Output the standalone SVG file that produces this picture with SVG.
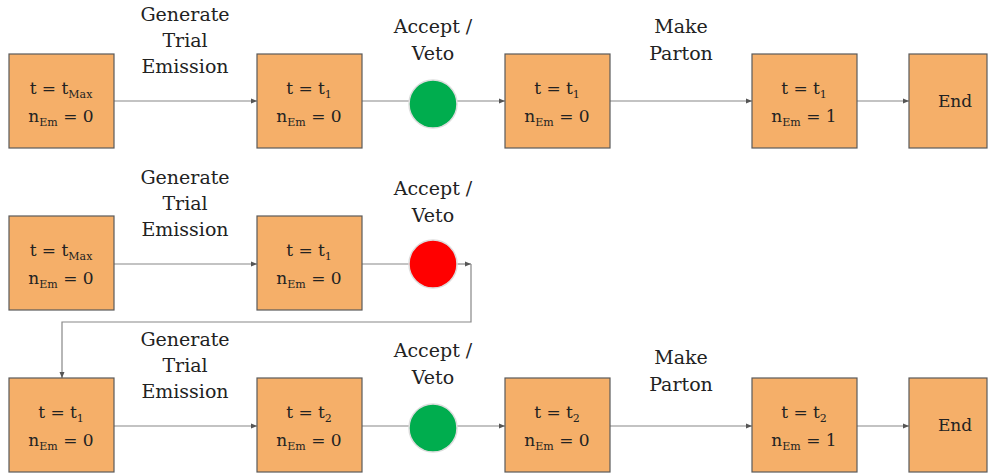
<svg xmlns="http://www.w3.org/2000/svg" width="988" height="476" viewBox="0 0 988 476">
<defs>
<style>
.box{fill:#F5AF69;stroke:#5a5a5a;stroke-width:1.2}
.bt{font-family:"DejaVu Serif","Liberation Serif",serif;font-size:17px;fill:#222;text-anchor:middle}
.lb{font-family:"DejaVu Serif","Liberation Serif",serif;font-size:19px;fill:#222;text-anchor:middle}
.sub{font-size:11px}
.c{fill:none;stroke:#888;stroke-width:1.2}
.ok{fill:#00AD4E;stroke:#ddd;stroke-width:1.5}
.no{fill:#FF0000;stroke:#ddd;stroke-width:1.5}
</style>
<marker id="ah" viewBox="0 0 6 6" refX="6" refY="3" markerWidth="6" markerHeight="6" orient="auto" markerUnits="userSpaceOnUse">
<path d="M0,0.5 L6,3 L0,5.5 z" fill="#555"/>
</marker>
</defs>
<rect width="988" height="476" fill="#fff"/>

<g id="connectors">
<line class="c" x1="114" y1="101" x2="257" y2="101" marker-end="url(#ah)"/>
<line class="c" x1="362" y1="101" x2="409" y2="101"/>
<line class="c" x1="457" y1="101" x2="505" y2="101" marker-end="url(#ah)"/>
<line class="c" x1="610" y1="101" x2="752" y2="101" marker-end="url(#ah)"/>
<line class="c" x1="857" y1="101" x2="909" y2="101" marker-end="url(#ah)"/>

<line class="c" x1="114" y1="264" x2="257" y2="264" marker-end="url(#ah)"/>
<line class="c" x1="362" y1="264" x2="409" y2="264"/>
<line class="c" x1="457" y1="264" x2="471" y2="264" marker-end="url(#ah)"/>
<polyline class="c" points="471,264 471,322 62,322 62,378" marker-end="url(#ah)"/>

<line class="c" x1="114" y1="426" x2="257" y2="426" marker-end="url(#ah)"/>
<line class="c" x1="362" y1="426" x2="409" y2="426"/>
<line class="c" x1="457" y1="426" x2="505" y2="426" marker-end="url(#ah)"/>
<line class="c" x1="610" y1="426" x2="752" y2="426" marker-end="url(#ah)"/>
<line class="c" x1="857" y1="426" x2="909" y2="426" marker-end="url(#ah)"/>
</g>

<g id="labels">
<text class="lb" x="185" y="21">Generate</text>
<text class="lb" x="185" y="47">Trial</text>
<text class="lb" x="185" y="73">Emission</text>
<text class="lb" x="433" y="33">Accept /</text>
<text class="lb" x="433" y="60">Veto</text>
<text class="lb" x="681" y="33">Make</text>
<text class="lb" x="681" y="60">Parton</text>

<text class="lb" x="185" y="184">Generate</text>
<text class="lb" x="185" y="210">Trial</text>
<text class="lb" x="185" y="236">Emission</text>
<text class="lb" x="433" y="195">Accept /</text>
<text class="lb" x="433" y="222">Veto</text>

<text class="lb" x="185" y="346">Generate</text>
<text class="lb" x="185" y="372">Trial</text>
<text class="lb" x="185" y="398">Emission</text>
<text class="lb" x="433" y="357">Accept /</text>
<text class="lb" x="433" y="384">Veto</text>
<text class="lb" x="681" y="364">Make</text>
<text class="lb" x="681" y="391">Parton</text>
</g>

<g id="r1n1"><rect class="box" x="9" y="54" width="105" height="94"/>
<text class="bt" x="61" y="94">t = t<tspan class="sub" dy="4">Max</tspan></text>
<text class="bt" x="61" y="122">n<tspan class="sub" dy="4">Em</tspan><tspan dy="-4"> = 0</tspan></text></g>
<g id="r1n2"><rect class="box" x="257" y="54" width="105" height="94"/>
<text class="bt" x="309" y="94">t = t<tspan class="sub" dy="4">1</tspan></text>
<text class="bt" x="309" y="122">n<tspan class="sub" dy="4">Em</tspan><tspan dy="-4"> = 0</tspan></text></g>
<g id="r1c"><circle class="ok" cx="433" cy="104" r="24"/></g>
<g id="r1n3"><rect class="box" x="505" y="54" width="105" height="94"/>
<text class="bt" x="557" y="94">t = t<tspan class="sub" dy="4">1</tspan></text>
<text class="bt" x="557" y="122">n<tspan class="sub" dy="4">Em</tspan><tspan dy="-4"> = 0</tspan></text></g>
<g id="r1n4"><rect class="box" x="752" y="54" width="105" height="94"/>
<text class="bt" x="804" y="94">t = t<tspan class="sub" dy="4">1</tspan></text>
<text class="bt" x="804" y="122">n<tspan class="sub" dy="4">Em</tspan><tspan dy="-4"> = 1</tspan></text></g>
<g id="r1end"><rect class="box" x="909" y="54" width="78" height="94"/>
<text class="bt" x="955" y="107">End</text></g>

<g id="r2n1"><rect class="box" x="9" y="216" width="105" height="94"/>
<text class="bt" x="61" y="256">t = t<tspan class="sub" dy="4">Max</tspan></text>
<text class="bt" x="61" y="284">n<tspan class="sub" dy="4">Em</tspan><tspan dy="-4"> = 0</tspan></text></g>
<g id="r2n2"><rect class="box" x="257" y="216" width="105" height="94"/>
<text class="bt" x="309" y="256">t = t<tspan class="sub" dy="4">1</tspan></text>
<text class="bt" x="309" y="284">n<tspan class="sub" dy="4">Em</tspan><tspan dy="-4"> = 0</tspan></text></g>
<g id="r2c"><circle class="no" cx="433" cy="264" r="24"/></g>

<g id="r3n1"><rect class="box" x="9" y="378" width="105" height="94"/>
<text class="bt" x="61" y="418">t = t<tspan class="sub" dy="4">1</tspan></text>
<text class="bt" x="61" y="446">n<tspan class="sub" dy="4">Em</tspan><tspan dy="-4"> = 0</tspan></text></g>
<g id="r3n2"><rect class="box" x="257" y="378" width="105" height="94"/>
<text class="bt" x="309" y="418">t = t<tspan class="sub" dy="4">2</tspan></text>
<text class="bt" x="309" y="446">n<tspan class="sub" dy="4">Em</tspan><tspan dy="-4"> = 0</tspan></text></g>
<g id="r3c"><circle class="ok" cx="433" cy="428" r="24"/></g>
<g id="r3n3"><rect class="box" x="505" y="378" width="105" height="94"/>
<text class="bt" x="557" y="418">t = t<tspan class="sub" dy="4">2</tspan></text>
<text class="bt" x="557" y="446">n<tspan class="sub" dy="4">Em</tspan><tspan dy="-4"> = 0</tspan></text></g>
<g id="r3n4"><rect class="box" x="752" y="378" width="105" height="94"/>
<text class="bt" x="804" y="418">t = t<tspan class="sub" dy="4">2</tspan></text>
<text class="bt" x="804" y="446">n<tspan class="sub" dy="4">Em</tspan><tspan dy="-4"> = 1</tspan></text></g>
<g id="r3end"><rect class="box" x="909" y="378" width="78" height="94"/>
<text class="bt" x="955" y="431">End</text></g>
</svg>
